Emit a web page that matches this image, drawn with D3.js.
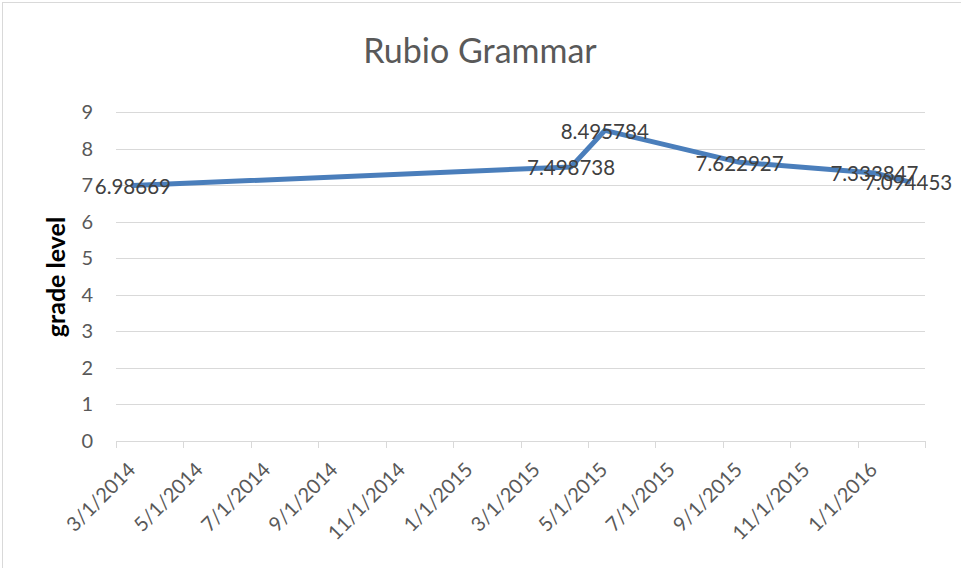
<!DOCTYPE html>
<html><head><meta charset="utf-8">
<script src="https://cdn.jsdelivr.net/npm/d3@7"></script>
<style>body{margin:0;background:#fff}svg{display:block}text{font-family:Lato,"Open Sans",sans-serif}</style>
</head><body>
<svg id="c" width="961" height="568"></svg>
<script>
const title = "Rubio Grammar";
const yTitle = "grade level";
const pointMonths = ["2014-03", "2015-04", "2015-05", "2015-09", "2016-01", "2016-02"];
const pointValues = [6.98669, 7.498738, 8.495784, 7.622927, 7.333847, 7.094453];
const yTicks = [0, 1, 2, 3, 4, 5, 6, 7, 8, 9];
const axisStart = "2014-03", axisEnd = "2016-03";
const tickLabels = ["3/1/2014","5/1/2014","7/1/2014","9/1/2014","11/1/2014","1/1/2015","3/1/2015","5/1/2015","7/1/2015","9/1/2015","11/1/2015","1/1/2016"];

const parse = d3.timeParse("%Y-%m");
const key = d3.timeFormat("%Y-%m");
const months = d3.timeMonth.range(parse(axisStart), parse(axisEnd)).map(key);

const svg = d3.select("#c");
const L = 116, R = 925, T = 112, B = 441;
const x = d3.scaleBand().domain(months).range([L, R]).padding(0);
const y = d3.scaleLinear().domain([0, 9]).range([B, T]);
const grey = "#595959";

svg.append("rect").attr("x", 2.5).attr("y", 2.5).attr("width", 1000).attr("height", 1000)
  .attr("fill", "none").attr("stroke", "#d9d9d9");

svg.append("text").attr("x", 480).attr("y", 63).attr("text-anchor", "middle")
  .attr("font-size", 34).attr("fill", grey).text(title);

// gridlines
svg.append("g").selectAll("line").data(yTicks.filter(d => d > 0)).join("line")
  .attr("x1", L).attr("x2", R).attr("y1", d => Math.round(y(d)) + 0.5).attr("y2", d => Math.round(y(d)) + 0.5)
  .attr("stroke", "#d9d9d9").attr("stroke-width", 1);

// y labels
svg.append("g").selectAll("text").data(yTicks).join("text")
  .attr("x", 93).attr("y", d => y(d)).attr("dy", "0.35em").attr("text-anchor", "end")
  .attr("font-size", 20).attr("fill", grey).text(d => d);

// x axis line + ticks
const tickMonths = months.filter((m, i) => i % 2 === 0);
svg.append("line").attr("x1", L).attr("x2", R).attr("y1", B + 0.5).attr("y2", B + 0.5).attr("stroke", "#d9d9d9");
svg.append("g").selectAll("line").data(tickMonths.map(m => x(m)).concat([R])).join("line")
  .attr("x1", d => Math.round(d) + 0.5).attr("x2", d => Math.round(d) + 0.5).attr("y1", B).attr("y2", B + 7)
  .attr("stroke", "#d9d9d9");

svg.append("g").selectAll("text").data(tickMonths).join("text")
  .attr("transform", m => `translate(${x(m) + x.bandwidth() / 2 - 1},${466}) rotate(-45)`)
  .attr("text-anchor", "end").attr("dy", "0.35em").attr("font-size", 20).attr("fill", grey)
  .text((m, i) => tickLabels[i]);

// y title
svg.append("text").attr("transform", "translate(56,277) rotate(-90)").attr("dy", "0.35em")
  .attr("text-anchor", "middle").attr("font-size", 25).attr("font-weight", "bold").attr("fill", "#000").text(yTitle);

// line
const pts = pointMonths.map((m, i) => ({ m, v: pointValues[i] }));
const line = d3.line().x(d => x(d.m) + x.bandwidth() / 2).y(d => y(d.v));
svg.append("path").datum(pts).attr("d", line).attr("fill", "none")
  .attr("stroke", "#4a7ebb").attr("stroke-width", 5).attr("stroke-linejoin", "round").attr("stroke-linecap", "round");

// data labels
svg.append("g").selectAll("text").data(pts).join("text")
  .attr("x", d => x(d.m) + x.bandwidth() / 2).attr("y", d => y(d.v) + 1).attr("dy", "0.35em")
  .attr("text-anchor", "middle").attr("font-size", 20.5).attr("fill", "#404040").text(d => d.v);
</script>
</body></html>
